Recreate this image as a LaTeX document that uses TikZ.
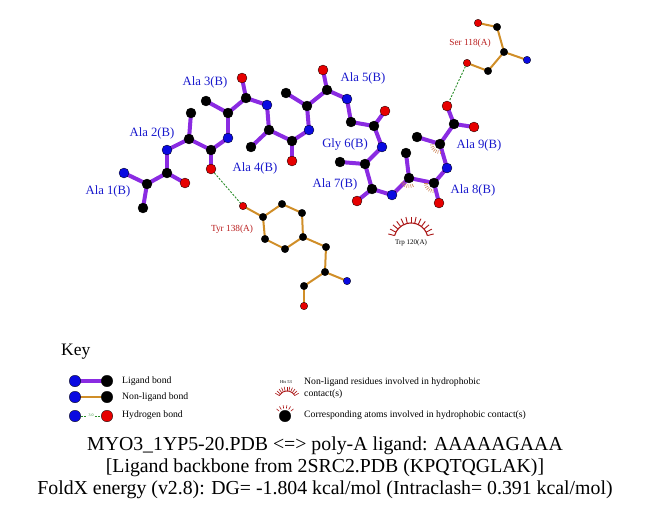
\documentclass[tikz,border=0pt]{standalone}
\usepackage{fontspec}
\setmainfont{Liberation Serif}
\usetikzlibrary{calc,backgrounds}
\definecolor{ligc}{RGB}{138,43,226}
\definecolor{nlc}{RGB}{208,142,40}
\definecolor{hbc}{RGB}{40,140,40}
\definecolor{atN}{RGB}{10,10,225}
\definecolor{atO}{RGB}{230,0,0}
\definecolor{labB}{RGB}{25,25,205}
\definecolor{labR}{RGB}{185,30,30}
\definecolor{trpc}{RGB}{170,20,20}
\definecolor{hydc}{RGB}{205,135,90}
\begin{document}
\begin{tikzpicture}[x=1pt,y=-1pt,
  lC/.style={circle,fill=black,draw=black,line width=0.3pt,inner sep=0,minimum size=10pt},
  lN/.style={lC,fill=atN},
  lO/.style={lC,fill=atO},
  nC/.style={circle,fill=black,draw=black,line width=0.3pt,inner sep=0,minimum size=7.5pt},
  nN/.style={nC,fill=atN},
  nO/.style={nC,fill=atO},
  kC/.style={circle,fill=black,draw=black,line width=0.3pt,inner sep=0,minimum size=11.5pt},
  kN/.style={kC,fill=atN},
  kO/.style={kC,fill=atO},
  ligbond/.style={draw=ligc,line width=4pt},
  nlbond/.style={draw=nlc,line width=2pt},
  hbond/.style={draw=hbc,line width=0.9pt,dash pattern=on 2pt off 1.5pt},
  blab/.style={text=labB,font=\fontsize{12.7}{14}\selectfont,inner sep=0},
  rlab/.style={text=labR,font=\fontsize{9.3}{10}\selectfont,inner sep=0},
  keytxt/.style={font=\fontsize{9.7}{11}\selectfont,anchor=west,inner sep=0},
  hyd/.style={draw=hydc,line width=0.6pt},
  trpline/.style={draw=trpc,line width=1.1pt}
]
\useasboundingbox (0,0) rectangle (651,511);

% ---------- ligand atoms ----------
\node[lN] (N1) at (124,173) {};
\node[lC] (CA1) at (147,184) {};
\node[lC] (CB1) at (143,208) {};
\node[lC] (C1) at (167,173) {};
\node[lO] (O1) at (185,183) {};
\node[lN] (N2) at (167,150) {};
\node[lC] (CA2) at (189,139) {};
\node[lC] (CB2) at (191,113) {};
\node[lC] (C2) at (211,150) {};
\node[lO] (O2) at (211,169) {};
\node[lN] (N3) at (228,138) {};
\node[lC] (CA3) at (228,113) {};
\node[lC] (CB3) at (206,101) {};
\node[lC] (C3) at (246,98) {};
\node[lO] (O3) at (242,78) {};
\node[lN] (N4) at (267,105) {};
\node[lC] (CA4) at (269,130) {};
\node[lC] (CB4) at (251,147) {};
\node[lC] (C4) at (292,141) {};
\node[lO] (O4) at (292,161) {};
\node[lN] (N5) at (309,130) {};
\node[lC] (CA5) at (307,106) {};
\node[lC] (CB5) at (286,93) {};
\node[lC] (C5) at (327,90) {};
\node[lO] (O5) at (323,70) {};
\node[lN] (N6) at (347,99) {};
\node[lC] (CA6) at (351,122) {};
\node[lC] (C6) at (374,126) {};
\node[lO] (O6) at (385,111) {};
\node[lN] (N7) at (382,147) {};
\node[lC] (CA7) at (365,164) {};
\node[lC] (CB7) at (340,162) {};
\node[lC] (C7) at (372,189) {};
\node[lO] (O7) at (357,201) {};
\node[lN] (N8) at (392,195) {};
\node[lC] (CA8) at (409,178) {};
\node[lC] (CB8) at (406,153) {};
\node[lC] (C8) at (434,183) {};
\node[lO] (O8) at (439,203) {};
\node[lN] (N9) at (447,168) {};
\node[lC] (CA9) at (440,144) {};
\node[lC] (CB9) at (417,137) {};
\node[lC] (C9) at (454,124) {};
\node[lO] (O9a) at (447,106) {};
\node[lO] (O9b) at (474,127) {};

% ---------- Ser 118 ----------
\node[nO] (sO) at (478,23) {};
\node[nC] (sC) at (497,27) {};
\node[nC] (sCA) at (504,52) {};
\node[nN] (sN) at (527,60) {};
\node[nC] (sCB) at (488,71) {};
\node[nO] (sOG) at (467,63) {};

% ---------- Tyr 138 ----------
\node[nO] (tOH) at (243,206) {};
\node[nC] (tCZ) at (263,217) {};
\node[nC] (tCE1) at (282,204) {};
\node[nC] (tCD1) at (302,213) {};
\node[nC] (tCG) at (303,237) {};
\node[nC] (tCD2) at (285,249) {};
\node[nC] (tCE2) at (265,239) {};
\node[nC] (tCB) at (326,247) {};
\node[nC] (tCA) at (325,272) {};
\node[nN] (tN) at (347,281) {};
\node[nC] (tC) at (304,286) {};
\node[nO] (tO) at (304,306) {};

\begin{scope}[on background layer]
\foreach \a/\b in {N1/CA1,CA1/CB1,CA1/C1,C1/O1,C1/N2,
  N2/CA2,CA2/CB2,CA2/C2,C2/O2,C2/N3,
  N3/CA3,CA3/CB3,CA3/C3,C3/O3,C3/N4,
  N4/CA4,CA4/CB4,CA4/C4,C4/O4,C4/N5,
  N5/CA5,CA5/CB5,CA5/C5,C5/O5,C5/N6,
  N6/CA6,CA6/C6,C6/O6,C6/N7,
  N7/CA7,CA7/CB7,CA7/C7,C7/O7,C7/N8,
  N8/CA8,CA8/CB8,CA8/C8,C8/O8,C8/N9,
  N9/CA9,CA9/CB9,CA9/C9,C9/O9a,C9/O9b}
  \draw[ligbond] (\a.center) -- (\b.center);
\foreach \a/\b in {sO/sC,sC/sCA,sCA/sN,sCA/sCB,sCB/sOG,
  tOH/tCZ,tCZ/tCE1,tCE1/tCD1,tCD1/tCG,tCG/tCD2,tCD2/tCE2,tCE2/tCZ,
  tCG/tCB,tCB/tCA,tCA/tN,tCA/tC,tC/tO}
  \draw[nlbond] (\a.center) -- (\b.center);
\end{scope}

% hydrogen bonds
\draw[hbond] (O2) -- (tOH);
\draw[hbond] (sOG) -- (O9a);

% hydrophobic contact marks on ligand atoms
\foreach \at/\ang in {CA8/255,C8/222,CA9/228}{
  \foreach \t in {-42,-28,...,42}
    \draw[hyd] ($(\at)+(\ang+\t:6.5pt)$) -- ($(\at)+(\ang+\t:10pt)$);
}

% Trp 120 arc
\coordinate (trpcen) at (411,240);
\draw[trpline] ($(trpcen)+(15:17pt)$) arc[start angle=15,end angle=165,radius=17pt];
\foreach \t in {15,27.5,...,165}
  \draw[trpline,line width=0.9pt] ($(trpcen)+(\t:17pt)$) -- ($(trpcen)+(\t:23.5pt)$);
\node[font=\fontsize{7}{8}\selectfont,inner sep=0] (trplab) at (411,243) {Trp 120(A)};

% labels
\node[blab] (l1) at (108,191) {Ala 1(B)};
\node[blab] (l2) at (152,133) {Ala 2(B)};
\node[blab] (l3) at (205,82) {Ala 3(B)};
\node[blab] (l4) at (255,168) {Ala 4(B)};
\node[blab] (l5) at (363,78) {Ala 5(B)};
\node[blab] (l6) at (345,144) {Gly 6(B)};
\node[blab] (l7) at (335,184) {Ala 7(B)};
\node[blab] (l8) at (473,190) {Ala 8(B)};
\node[blab] (l9) at (479,145) {Ala 9(B)};
\node[rlab] (sl) at (470,43) {Ser 118(A)};
\node[rlab] (tl) at (232,229) {Tyr 138(A)};

% ---------- Key ----------
\node[font=\fontsize{17.5}{19}\selectfont,anchor=west,inner sep=0] (key) at (61,352) {Key};
\node[kN] (k1a) at (75,381) {};
\node[kC] (k1b) at (107,381) {};
\node[kN] (k2a) at (75,397) {};
\node[kC] (k2b) at (107,397) {};
\node[kN] (k3a) at (75,416) {};
\node[kO] (k3b) at (107,416) {};
\begin{scope}[on background layer]
\draw[ligbond] (k1a.center) -- (k1b.center);
\draw[nlbond] (k2a.center) -- (k2b.center);
\end{scope}
\draw[hbond] (k3a) -- (k3b);
\node[fill=white,inner sep=0.5pt,text=hbc,font=\fontsize{4}{5}\selectfont] (k3t) at (91,415.5) {3.0};
\node[keytxt] (kt1) at (122,381) {Ligand bond};
\node[keytxt] (kt2) at (122,397) {Non-ligand bond};
\node[keytxt] (kt3) at (122,415) {Hydrogen bond};

\node[font=\fontsize{4.5}{5}\selectfont,inner sep=0] (his) at (286,382) {His 53};
\coordinate (hiscen) at (287,400);
\draw[trpline,line width=0.8pt] ($(hiscen)+(30:9pt)$) arc[start angle=30,end angle=150,radius=9pt];
\foreach \t in {30,42,...,150}
  \draw[trpline,line width=0.6pt] ($(hiscen)+(\t:9pt)$) -- ($(hiscen)+(\t:13.5pt)$);
\node[keytxt] (kt4) at (304,382) {Non-ligand residues involved in hydrophobic};
\node[keytxt] (kt5) at (304,394) {contact(s)};
\node[kC] (kball) at (285,416) {};
\foreach \t in {40,60,...,140}
  \draw[trpline,line width=0.6pt] ($(kball)+(\t:7.5pt)$) -- ($(kball)+(\t:11pt)$);
\node[keytxt] (kt6) at (304,415) {Corresponding atoms involved in hydrophobic contact(s)};

% ---------- caption ----------
\node[font=\fontsize{19.8}{21.8}\selectfont,align=center,inner sep=0] (cap) at (325,468)
 {MYO3\_1YP5-20.PDB <=> poly-A ligand: AAAAAGAAA\\
  {[}Ligand backbone from 2SRC2.PDB (KPQTQGLAK){]}\\
  FoldX energy (v2.8): DG= -1.804 kcal/mol (Intraclash= 0.391 kcal/mol)};
\end{tikzpicture}
\end{document}
